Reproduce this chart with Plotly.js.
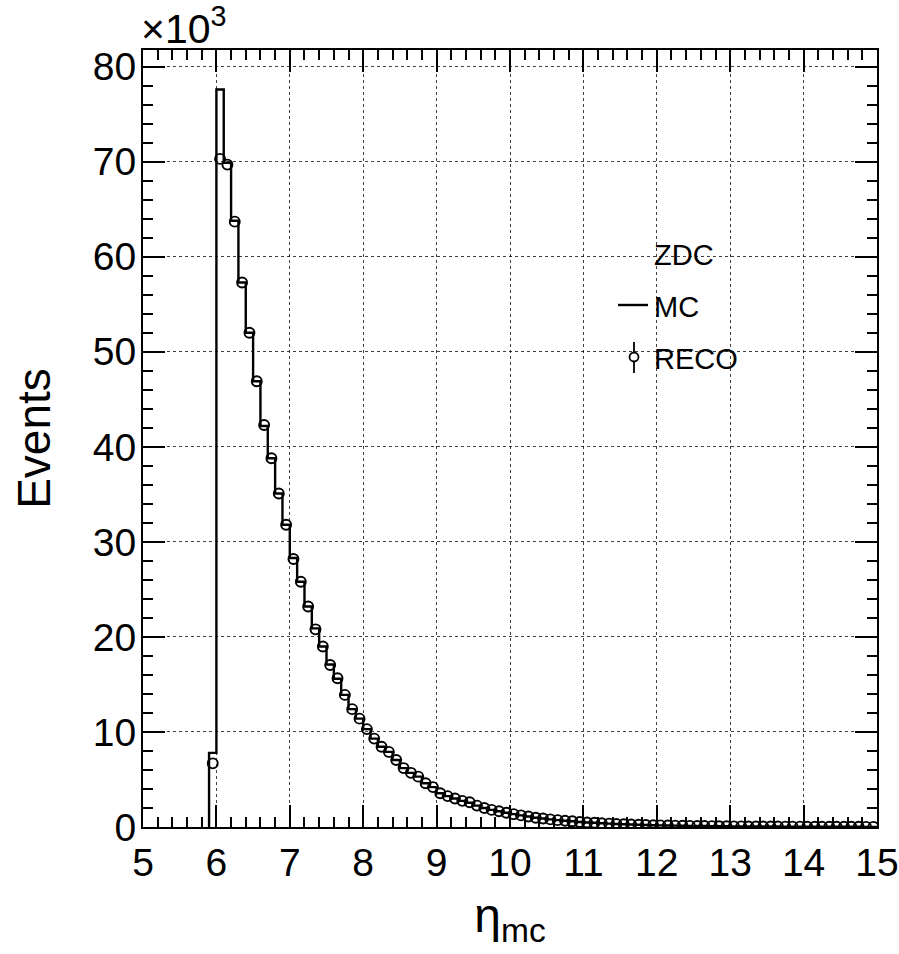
<!DOCTYPE html>
<html>
<head>
<meta charset="utf-8">
<script src="https://cdn.plot.ly/plotly-3.0.1.min.js"></script>
<style>
  html, body { margin: 0; padding: 0; background: #ffffff; }
  #chart { width: 899px; height: 954px; }
</style>
</head>
<body>
<div id="chart"></div>
<script>
// Histogram binning (eta_mc): first bin low edge and bin width
const binLow = 5.9;
const binWidth = 0.1;

// MC histogram contents (x10^3 events), one per bin from 5.9 to 15.0
const mcValues = [
  7.8, 77.6, 69.9, 63.8, 57.3, 52.0, 46.9, 42.2, 38.8, 35.1,
  31.8, 28.3, 25.8, 23.2, 20.9, 19.0, 17.1, 15.6, 13.9, 12.4,
  11.4, 10.3, 9.3, 8.45, 7.9, 7.05, 6.2, 5.7, 5.3, 4.6,
  4.2, 3.55, 3.25, 3.0, 2.75, 2.55, 2.25, 2.0, 1.8, 1.65,
  1.5, 1.35, 1.22, 1.1, 0.98, 0.9, 0.8, 0.72, 0.66, 0.6,
  0.53, 0.48, 0.44, 0.39, 0.35, 0.32, 0.29, 0.26, 0.24, 0.21,
  0.19, 0.17, 0.16, 0.14, 0.13, 0.12, 0.11, 0.10, 0.09, 0.085,
  0.08, 0.07, 0.065, 0.06, 0.055, 0.05, 0.048, 0.045, 0.04, 0.038,
  0.035, 0.032, 0.03, 0.028, 0.026, 0.024, 0.022, 0.021, 0.02, 0.018,
  0.017
];

// RECO histogram contents (x10^3 events), same binning
const recoValues = [
  6.7, 70.3, 69.7, 63.7, 57.3, 52.0, 46.9, 42.3, 38.8, 35.1,
  31.8, 28.2, 25.8, 23.2, 20.8, 19.0, 17.05, 15.65, 13.9, 12.4,
  11.4, 10.3, 9.3, 8.45, 7.9, 7.05, 6.2, 5.7, 5.3, 4.6,
  4.2, 3.55, 3.25, 3.0, 2.75, 2.6, 2.25, 2.0, 1.8, 1.65,
  1.5, 1.35, 1.22, 1.1, 0.98, 0.9, 0.8, 0.72, 0.66, 0.6,
  0.53, 0.48, 0.44, 0.39, 0.35, 0.32, 0.29, 0.26, 0.24, 0.21,
  0.19, 0.17, 0.16, 0.14, 0.13, 0.12, 0.11, 0.10, 0.09, 0.085,
  0.08, 0.07, 0.065, 0.06, 0.055, 0.05, 0.048, 0.045, 0.04, 0.038,
  0.035, 0.032, 0.03, 0.028, 0.026, 0.024, 0.022, 0.021, 0.02, 0.018,
  0.017
];

// Axis tick labels
const xTickVals = [5, 6, 7, 8, 9, 10, 11, 12, 13, 14, 15];
const yTickVals = [0, 10, 20, 30, 40, 50, 60, 70, 80];
const xTitle = 'η<sub>mc</sub>';
const yTitle = 'Events';
const legendHeader = 'ZDC';
const legendLabels = ['MC', 'RECO'];

// ---- derived from the arrays above ----
const nBins = mcValues.length;
const edges = [];
for (let i = 0; i <= nBins; i++) edges.push(+(binLow + i * binWidth).toFixed(2));
const centers = [];
for (let i = 0; i < nBins; i++) centers.push(+(binLow + (i + 0.5) * binWidth).toFixed(3));

// Step outline for MC: start at zero on the first low edge
const mcX = [edges[0]].concat(edges);
const mcY = [0].concat(mcValues, [mcValues[nBins - 1]]);

const FONT = 'Liberation Sans, Arial, Helvetica, sans-serif';

// plot frame in pixels (for decoration placement only)
const L = 143, R = 877, T = 50, B = 827;
const px = (x) => (x - L) / (R - L);
const py = (y) => (B - y) / (B - T);

const traces = [
  {
    type: 'scatter', mode: 'lines', x: mcX, y: mcY,
    line: { shape: 'hv', color: '#000', width: 2.4 },
    name: legendLabels[0], showlegend: false, hoverinfo: 'skip'
  },
  {
    type: 'scatter', mode: 'markers', x: centers, y: recoValues,
    marker: { symbol: 'circle-open', size: 10, color: '#000', line: { width: 1.9, color: '#000' } },
    name: legendLabels[1], showlegend: false
  }
];

const axisCommon = {
  showline: true, linecolor: '#000', linewidth: 2, mirror: 'ticks',
  ticks: 'inside', tickwidth: 2, tickcolor: '#000', ticklen: 22,
  showgrid: true, gridcolor: 'rgba(0,0,0,0.75)', gridwidth: 1, griddash: 'dot',
  zeroline: false,
  tickfont: { family: FONT, size: 39, color: '#000' }
};

const layout = {
  width: 899, height: 954,
  margin: { l: L, r: 899 - R, t: T, b: 954 - B },
  paper_bgcolor: '#fff', plot_bgcolor: '#fff',
  showlegend: false,
  font: { family: FONT, color: '#000' },
  xaxis: Object.assign({}, axisCommon, {
    range: [5, 15], tickmode: 'array', tickvals: xTickVals, ticktext: xTickVals.map(String),
    minor: { dtick: 0.2, tick0: 5, ticks: 'inside', ticklen: 10, tickwidth: 2, tickcolor: '#000', showgrid: false },
    ticklabelstandoff: 0,
    title: { text: xTitle, font: { family: FONT, size: 48, color: '#000' }, standoff: 16 }
  }),
  yaxis: Object.assign({}, axisCommon, {
    range: [0, 81.76], tickmode: 'array', tickvals: yTickVals, ticktext: yTickVals.map(String),
    minor: { dtick: 2, tick0: 0, ticks: 'inside', ticklen: 10, tickwidth: 2, tickcolor: '#000', showgrid: false },
    ticklabelstandoff: -3,
    title: { text: yTitle, font: { family: FONT, size: 46, color: '#000' }, standoff: 28 }
  }),
  annotations: [
    { xref: 'paper', yref: 'paper', x: 0, y: 1, xanchor: 'left', yanchor: 'bottom', xshift: -4, yshift: -4,
      text: '×10<sup>3</sup>', showarrow: false, font: { family: FONT, size: 41, color: '#000' } },
    { xref: 'paper', yref: 'paper', x: px(652), y: py(255), xanchor: 'left', yanchor: 'middle',
      text: legendHeader, showarrow: false, font: { family: FONT, size: 29, color: '#000' } },
    { xref: 'paper', yref: 'paper', x: px(652), y: py(307), xanchor: 'left', yanchor: 'middle',
      text: legendLabels[0], showarrow: false, font: { family: FONT, size: 29, color: '#000' } },
    { xref: 'paper', yref: 'paper', x: px(652), y: py(359), xanchor: 'left', yanchor: 'middle',
      text: legendLabels[1], showarrow: false, font: { family: FONT, size: 29, color: '#000' } }
  ],
  shapes: [
    { type: 'line', xref: 'paper', yref: 'paper', x0: px(618), x1: px(648), y0: py(305), y1: py(305),
      line: { color: '#000', width: 2.4 } },
    { type: 'line', xref: 'paper', yref: 'paper', x0: px(634), x1: px(634), y0: py(342), y1: py(373),
      line: { color: '#000', width: 1.8 } },
    { type: 'circle', xref: 'paper', yref: 'paper', x0: px(629.5), x1: px(638.5), y0: py(352.5), y1: py(361.5),
      fillcolor: '#fff', line: { color: '#000', width: 1.8 } }
  ]
};

Plotly.newPlot('chart', traces, layout, { staticPlot: true, displayModeBar: false });
</script>
</body>
</html>
